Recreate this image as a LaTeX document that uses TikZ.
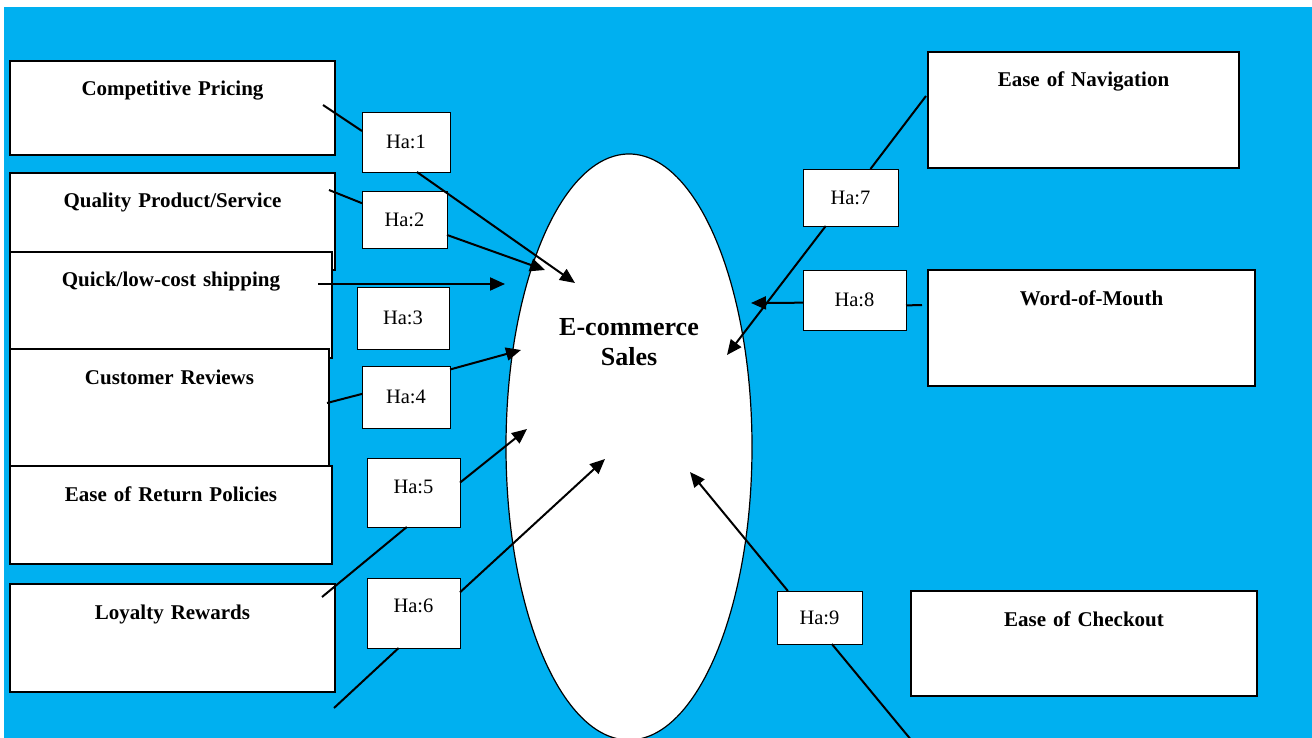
\documentclass[tikz,border=0pt]{standalone}
\usepackage{fontspec}
\setmainfont{Liberation Serif}
\usetikzlibrary{shapes.geometric,arrows.meta}

\definecolor{c00b0f0}{RGB}{0,176,240}
\definecolor{cffffff}{RGB}{255,255,255}

\begin{document}
\begin{tikzpicture}[y=1pt, x=1pt, yscale=-1, inner sep=0pt, outer sep=0pt,
  factor/.style={draw=black, fill=cffffff, line width=1.3pt, anchor=north west,
    align=center, text height=35pt, font=\bfseries\fontsize{21}{25}\selectfont},
  hyp/.style={draw=black, fill=cffffff, line width=0.9pt, anchor=north west,
    font=\fontsize{20.5}{24}\selectfont},
  link/.style={draw=black, line width=2pt},
  effect/.style={link, -{Triangle[length=15pt,width=13pt]}}]

\useasboundingbox (0,0) rectangle (1312,738);
% background
\path[fill=c00b0f0] (4,7) rectangle (1312,738);

% dependent variable
\node[draw=black, fill=cffffff, ellipse, line width=1.2pt, minimum width=246pt,
  minimum height=586pt] (sales) at (629,447) {};
\node[font=\bfseries\fontsize{26}{30}\selectfont, align=center] (salestext)
  at (629,342) {E-commerce\\Sales};

% factors, left column
\node[factor, text width=325pt, text depth=59pt] (cp) at (10,61) {Competitive Pricing};
\node[factor, text width=325pt, text depth=62pt] (qp) at (10,173) {Quality Product/Service};
\node[factor, text width=322pt, text depth=71pt] (qs) at (10,252) {Quick/low-cost shipping};
\node[factor, text width=319pt, text depth=82pt] (cr) at (10,349) {Customer Reviews};
\node[factor, text width=322pt, text depth=63pt] (rp) at (10,466) {Ease of Return Policies};
\node[factor, text width=325pt, text depth=73pt] (lr) at (10,584) {Loyalty Rewards};

% factors, right column
\node[factor, text width=311pt, text depth=81pt] (en) at (928,52) {Ease of Navigation};
\node[factor, text width=327pt, text depth=81pt] (wm) at (928,270) {Word-of-Mouth};
\node[factor, text width=346pt, text depth=70pt] (ec) at (911,591) {Ease of Checkout};

% hypotheses
\node[hyp, minimum width=88pt, minimum height=60pt] (ha1) at (362,112) {Ha:1};
\node[hyp, minimum width=85pt, minimum height=57pt] (ha2) at (362,191) {Ha:2};
\node[hyp, minimum width=92pt, minimum height=62pt] (ha3) at (357,287) {Ha:3};
\node[hyp, minimum width=88pt, minimum height=62pt] (ha4) at (362,366) {Ha:4};
\node[hyp, minimum width=93pt, text height=35pt, text depth=34pt] (ha5) at (367,458) {Ha:5};
\node[hyp, minimum width=93pt, text height=34pt, text depth=36pt] (ha6) at (367,578) {Ha:6};
\node[hyp, minimum width=95pt, minimum height=57pt] (ha7) at (803,169) {Ha:7};
\node[hyp, minimum width=103pt, minimum height=60pt] (ha8) at (803,270) {Ha:8};
\node[hyp, minimum width=85pt, minimum height=53pt] (ha9) at (777,591) {Ha:9};

% line starts
\coordinate (s1) at (323,105);
\coordinate (s2) at (329,190);
\coordinate (s3) at (318,284);
\coordinate (s4) at (327,403);
\coordinate (s5) at (322,597);
\coordinate (s6) at (334,708);
\coordinate (s7) at (926,96);
\coordinate (s8) at (922,305);
\coordinate (s9) at (912,741);

% arrow tips
\coordinate (t1) at (575,283);
\coordinate (t2) at (545,270);
\coordinate (t3) at (505,284);
\coordinate (t4) at (521,350);
\coordinate (t5) at (527,429);
\coordinate (t6) at (605,459);
\coordinate (t7) at (727,355);
\coordinate (t8) at (751,303);
\coordinate (t9) at (690,472);

% paths
\draw[link] (s1) -- (ha1.166);
\draw[effect] (ha1.290) -- (t1);
\draw[link] (s2) -- (ha2.159);
\draw[effect] (ha2.340) -- (t2);
\draw[effect] (s3) -- (t3);
\draw[link] (s4) -- (ha4.176);
\draw[effect] (ha4.32) -- (t4);
\draw[link] (s5) -- (ha5.259);
\draw[effect] (ha5.12) -- (t5);
\draw[link] (s6) -- (ha6.247);
\draw[effect] (ha6.24) -- (t6);
\draw[link] (s7) -- (ha7.55);
\draw[effect] (ha7.229) -- (t7);
\draw[link] (s8) -- (ha8.354);
\draw[effect] (ha8.183) -- (t8);
\draw[link] (s9) -- (ha9.295);
\draw[effect] (ha9.140) -- (t9);

\end{tikzpicture}
\end{document}
